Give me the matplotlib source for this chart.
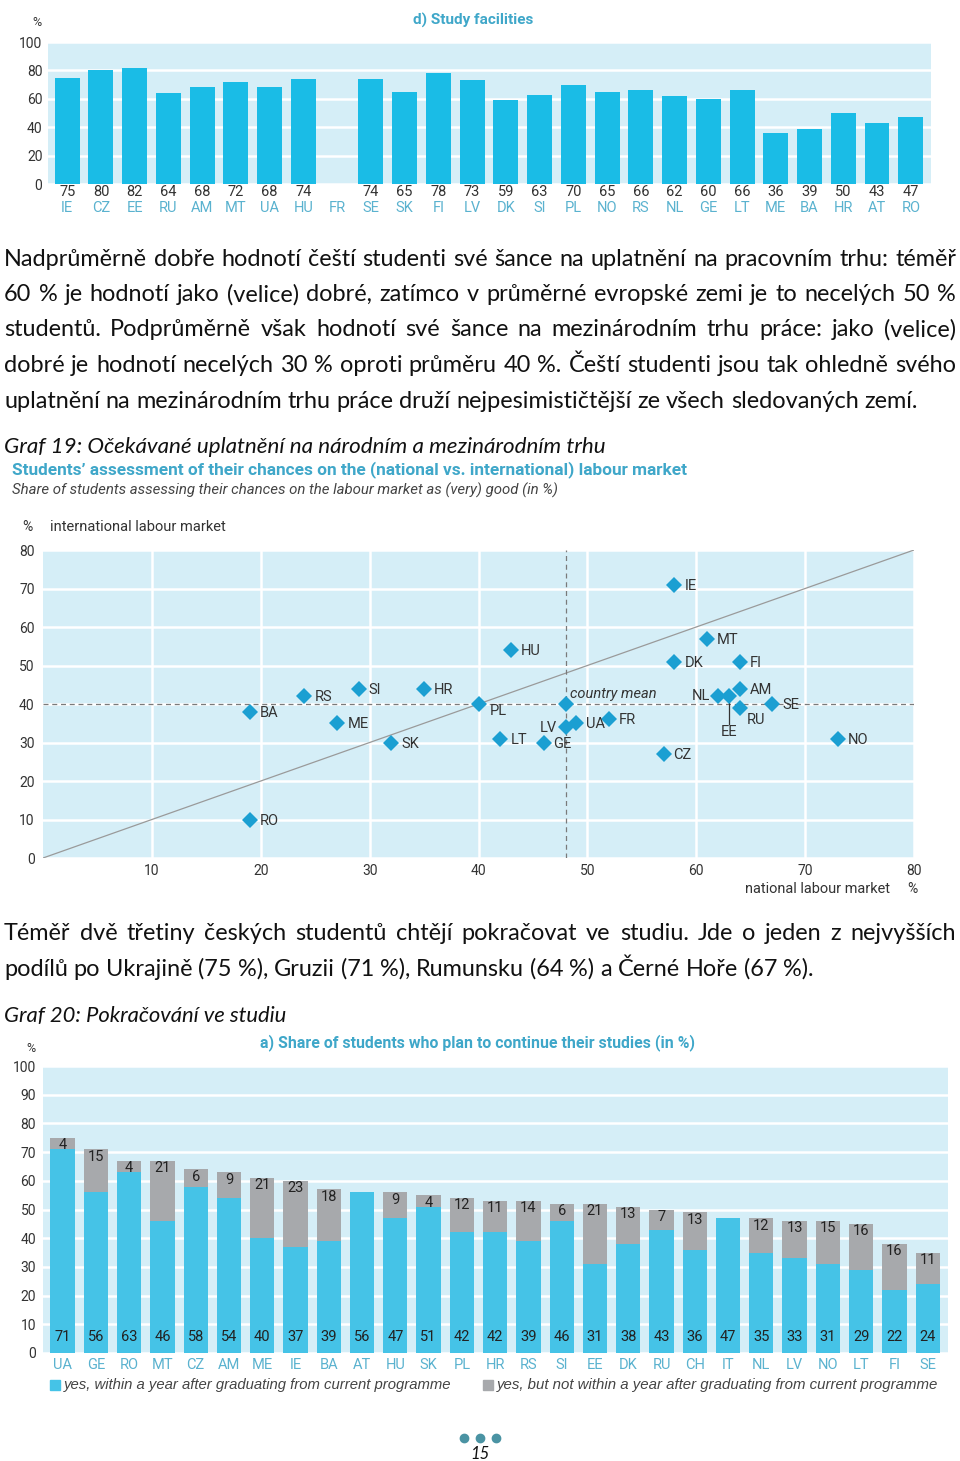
import matplotlib
matplotlib.use('Agg')
import matplotlib.pyplot as plt
from matplotlib import font_manager
from matplotlib.lines import Line2D
from matplotlib.patches import Rectangle

# ---- data: d) Study facilities ----
fac_countries = ['IE', 'CZ', 'EE', 'RU', 'AM', 'MT', 'UA', 'HU', 'FR', 'SE', 'SK', 'FI', 'LV',
                 'DK', 'SI', 'PL', 'NO', 'RS', 'NL', 'GE', 'LT', 'ME', 'BA', 'HR', 'AT', 'RO']
fac_values = [75, 80, 82, 64, 68, 72, 68, 74, None, 74, 65, 78, 73,
              59, 63, 70, 65, 66, 62, 60, 66, 36, 39, 50, 43, 47]

# ---- data: national vs. international labour market ----
sc_countries = ['BA', 'RO', 'RS', 'SI', 'ME', 'SK', 'HR', 'PL', 'HU', 'LT', 'GE', 'LV', 'UA',
                'FR', 'CZ', 'IE', 'DK', 'MT', 'NL', 'EE', 'AM', 'FI', 'RU', 'SE', 'NO']
sc_national = [19, 19, 24, 29, 27, 32, 35, 40, 43, 42, 46, 48, 49,
               52, 57, 58, 58, 61, 62, 63, 64, 64, 64, 67, 73]
sc_international = [38, 10, 42, 44, 35, 30, 44, 40, 54, 31, 30, 34, 35,
                    36, 27, 71, 51, 57, 42, 42, 44, 51, 39, 40, 31]
mean_national = 48
mean_international = 40

# ---- data: a) Share of students who plan to continue their studies ----
cont_countries = ['UA', 'GE', 'RO', 'MT', 'CZ', 'AM', 'ME', 'IE', 'BA', 'AT', 'HU', 'SK', 'PL', 'HR',
                  'RS', 'SI', 'EE', 'DK', 'RU', 'CH', 'IT', 'NL', 'LV', 'NO', 'LT', 'FI', 'SE']
cont_within = [71, 56, 63, 46, 58, 54, 40, 37, 39, 56, 47, 51, 42, 42,
               39, 46, 31, 38, 43, 36, 47, 35, 33, 31, 29, 22, 24]
cont_later = [4, 15, 4, 21, 6, 9, 21, 23, 18, 0, 9, 4, 12, 11,
              14, 6, 21, 13, 7, 13, 0, 12, 13, 15, 16, 16, 11]

para1 = ["Nadprůměrně dobře hodnotí čeští studenti své šance na uplatnění na pracovním trhu: téměř",
         "60 % je hodnotí jako (velice) dobré, zatímco v průměrné evropské zemi je to necelých 50 %",
         "studentů. Podprůměrně však hodnotí své šance na mezinárodním trhu práce: jako (velice)",
         "dobré je hodnotí necelých 30 % oproti průměru 40 %. Čeští studenti jsou tak ohledně svého",
         "uplatnění na mezinárodním trhu práce druží nejpesimističtější ze všech sledovaných zemí."]
para2 = ["Téměř dvě třetiny českých studentů chtějí pokračovat ve studiu. Jde o jeden z nejvyšších",
         "podílů po Ukrajině (75 %), Gruzii (71 %), Rumunsku (64 %) a Černé Hoře (67 %)."]

# ---- styles ----
BG = '#d5eef7'
TEAL = '#3fa7c9'
LTEAL = '#5ab2cf'
BLUE_TOP = '#1abce6'
BLUE_BOT = '#45c3e7'
GREY = '#a7a9ac'
MARK = '#1b9fd2'
DARK = '#333333'

names = {f.name for f in font_manager.fontManager.ttflist}
BODY = ['Lato', 'DejaVu Sans']
CH = ['Roboto', 'DejaVu Sans']
NARROW = ['Liberation Sans Narrow'] if 'Liberation Sans Narrow' in names else ['Liberation Sans']

W, H = 960, 1461
fig = plt.figure(figsize=(9.6, 14.61), dpi=100)
fig.patch.set_facecolor('white')
renderer = fig.canvas.get_renderer()


def axes_px(l, t, r, b):
    return fig.add_axes([l / W, 1 - b / H, (r - l) / W, (b - t) / H])


def txt(x, y, s, **kw):
    return fig.text(x / W, 1 - y / H, s, **kw)


def fit(t, width):
    w = t.get_window_extent(renderer).width
    t.set_fontsize(t.get_fontsize() * width / w)
    return t


def body_size():
    t = txt(0, 0, para1[-1], fontsize=15, family=BODY)
    w = t.get_window_extent(renderer).width
    t.remove()
    return 15 * 918 / w


def para_line(y, line, size, x0=4, x1=956, justify=True):
    words = line.split(' ')
    objs = [txt(x0, y, w, fontsize=size, family=BODY, va='center', color='#111111') for w in words]
    widths = [o.get_window_extent(renderer).width for o in objs]
    if justify:
        gap = (x1 - x0 - sum(widths)) / (len(words) - 1)
    else:
        gap = size * 0.25 * 100 / 72
    x = x0
    for o, w in zip(objs, widths):
        o.set_x(x / W)
        x += w + gap


def style_axes(ax):
    ax.set_facecolor(BG)
    for s in ax.spines.values():
        s.set_visible(False)
    ax.tick_params(length=0, labelsize=10, labelcolor=DARK)
    for lab in ax.get_xticklabels() + ax.get_yticklabels():
        lab.set_family(CH)
    ax.set_axisbelow(True)


# ================= top chart =================
ax1 = axes_px(48, 42, 931, 184)
xs = [i for i, v in enumerate(fac_values) if v is not None]
ax1.bar(xs, [fac_values[i] for i in xs], width=0.74, color=BLUE_TOP, zorder=3)
ax1.set_xlim(-0.57, 25.6)
ax1.set_ylim(0, 100)
ax1.set_xticks([])
ax1.set_yticks(range(0, 101, 20))
ax1.grid(axis='y', color='white', lw=1.8)
style_axes(ax1)
ax1.tick_params(axis='y', pad=4)
tr = ax1.get_xaxis_transform()
for i, (c, v) in enumerate(zip(fac_countries, fac_values)):
    if v is not None:
        ax1.text(i, -0.053, str(v), transform=tr, ha='center', va='center', fontsize=10.5,
                 color=DARK, family=CH)
    ax1.text(i, -0.17, c, transform=tr, ha='center', va='center', fontsize=10.5,
             color=LTEAL, family=CH)
txt(37, 22, '%', ha='center', va='center', fontsize=9, color=DARK, family=CH)
fit(txt(473, 20, 'd) Study facilities', ha='center', va='center', fontsize=10,
        color=TEAL, family=CH, weight='bold'), 121)

# ================= paragraph 1 =================
bs = body_size()
for k, line in enumerate(para1):
    para_line(259 + k * 35.5, line, bs, justify=(k < len(para1) - 1))
fit(txt(4, 447, 'Graf 19: Očekávané uplatnění na národním a mezinárodním trhu', va='center',
        fontsize=14, style='italic', family=BODY, color='#111111'), 605)

# ================= scatter =================
fit(txt(12, 470, 'Students’ assessment of their chances on the (national vs. international) labour market',
        va='center', fontsize=10, color=TEAL, family=CH, weight='bold'), 677)
fit(txt(12, 490, 'Share of students assessing their chances on the labour market as (very) good (in %)',
        va='center', fontsize=10, color='#444444', family=CH, style='italic'), 549)

ax2 = axes_px(43, 550, 914, 858)
ax2.set_xlim(0, 80)
ax2.set_ylim(0, 80)
ax2.set_xticks(range(10, 81, 10))
ax2.set_yticks(range(0, 81, 10))
ax2.grid(color='white', lw=1.8)
style_axes(ax2)
ax2.tick_params(axis='y', pad=6)
ax2.tick_params(axis='x', pad=4)
ax2.plot([0, 80], [0, 80], color='#9a9a9a', lw=0.9, zorder=2)
ax2.axhline(mean_international, color='#7a7a7a', lw=0.9, ls=(0, (4, 3)), zorder=2)
ax2.axvline(mean_national, color='#7a7a7a', lw=0.9, ls=(0, (4, 3)), zorder=2)
ax2.plot(sc_national, sc_international, 'D', color=MARK, ms=8.5, mew=0, zorder=4)
ax2.plot([mean_national], [mean_international], 'D', color=MARK, ms=8.5, mew=0, zorder=4)

# label offsets in pixels (dx, dy, ha)
offsets = {'PL': (11, -7, 'left'), 'NL': (-8, 0, 'right'), 'LV': (-9, -1, 'right'),
           'RU': (7, -12, 'left'), 'ME': (11, -1, 'left'), 'GE': (9, -1, 'left')}
for c, x, y in zip(sc_countries, sc_national, sc_international):
    if c == 'EE':
        continue
    dx, dy, ha = offsets.get(c, (10, -1, 'left'))
    ax2.annotate(c, (x, y), xytext=(dx * 0.72, dy * 0.72), textcoords='offset points',
                 ha=ha, va='center', fontsize=10.5, color=DARK, family=CH, zorder=5)
ee = sc_countries.index('EE')
ax2.plot([sc_national[ee]] * 2, [sc_international[ee] - 1.5, 34.8], color=DARK, lw=0.9, zorder=3)
ax2.text(sc_national[ee], 32.6, 'EE', ha='center', va='center', fontsize=10.5, color=DARK, family=CH)
ax2.annotate('country mean', (mean_national, mean_international), xytext=(3, 7),
             textcoords='offset points', ha='left', va='center', fontsize=10.5,
             color=DARK, family=CH, style='italic')

txt(27, 527, '%', ha='center', va='center', fontsize=10, color=DARK, family=CH)
fit(txt(50, 527, 'international labour market', va='center', fontsize=10, color=DARK, family=CH), 175)
fit(txt(745, 889, 'national labour market', va='center', fontsize=10, color=DARK, family=CH), 145)
txt(912, 889, '%', ha='center', va='center', fontsize=10, color=DARK, family=CH)

# ================= paragraph 2 =================
para_line(934, para2[0], bs)
para_line(969, para2[1], bs, justify=False)
fit(txt(4, 1016, 'Graf 20: Pokračování ve studiu', va='center', fontsize=14,
        style='italic', family=BODY, color='#111111'), 285)

# ================= bottom chart =================
ax3 = axes_px(43, 1066, 948, 1353)
pos = range(len(cont_countries))
ax3.bar(pos, cont_within, width=0.73, color=BLUE_BOT, zorder=3)
ax3.bar(pos, cont_later, bottom=cont_within, width=0.73, color=GREY, zorder=3)
ax3.set_xlim(-0.59, 26.61)
ax3.set_ylim(0, 100)
ax3.set_xticks([])
ax3.set_yticks(range(0, 101, 10))
ax3.grid(axis='y', color='white', lw=1.8)
style_axes(ax3)
ax3.tick_params(axis='y', pad=5)
tr3 = ax3.get_xaxis_transform()
for i, (c, a, b) in enumerate(zip(cont_countries, cont_within, cont_later)):
    ax3.text(i, 5.6, str(a), ha='center', va='center', fontsize=10.5, color='#222222', family=CH, zorder=5)
    if b:
        ax3.text(i, a + b - 2.6, str(b), ha='center', va='center', fontsize=10.5,
                 color='#222222', family=CH, zorder=5)
    ax3.text(i, -0.042, c, transform=tr3, ha='center', va='center', fontsize=10.5,
             color=LTEAL, family=CH)
txt(31, 1048, '%', ha='center', va='center', fontsize=9, color=DARK, family=CH)
fit(txt(477, 1043, 'a) Share of students who plan to continue their studies (in %)', ha='center',
        va='center', fontsize=10, color=TEAL, family=CH, weight='bold'), 434)

# legend
fig.add_artist(Rectangle((50 / W, 1 - 1390 / H), 10 / W, 10 / H, transform=fig.transFigure,
                         color=BLUE_BOT))
fit(txt(64, 1385, 'yes, within a year after graduating from current programme', va='center',
        fontsize=10, style='italic', family=NARROW, color='#444444'), 390)
fig.add_artist(Rectangle((483 / W, 1 - 1390 / H), 10 / W, 10 / H, transform=fig.transFigure,
                         color=GREY))
fit(txt(497, 1385, 'yes, but not within a year after graduating from current programme', va='center',
        fontsize=10, style='italic', family=NARROW, color='#444444'), 441)

# page footer
fig.add_artist(Line2D([464 / W, 480 / W, 496 / W], [1 - 1438 / H] * 3, transform=fig.transFigure,
                      ls='', marker='o', ms=6, color='#4a93a3'))
txt(480, 1454, '15', ha='center', va='center', fontsize=12, style='italic', family=BODY, color='#111111')

fig.savefig('out.png', dpi=100)
